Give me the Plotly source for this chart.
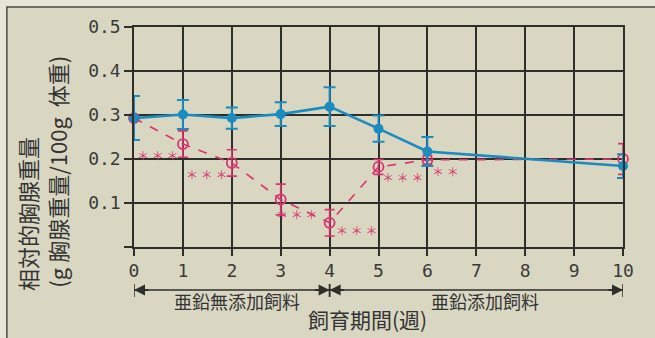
import plotly.graph_objects as go

# ---- data ----
weeks = [0, 1, 2, 3, 4, 5, 6, 10]
control_y = [0.293, 0.301, 0.293, 0.302, 0.319, 0.269, 0.217, 0.184]
control_err = [0.050, 0.033, 0.024, 0.027, 0.044, 0.030, 0.033, 0.027]
zinc_y = [0.293, 0.234, 0.191, 0.108, 0.055, 0.182, 0.198, 0.200]
zinc_err = [0.0, 0.030, 0.030, 0.035, 0.030, 0.017, 0.010, 0.035]

sig_x = [0.49, 1.49, 3.33, 4.56, 5.50, 6.37]
sig_y = [0.209, 0.164, 0.073, 0.037, 0.158, 0.171]
sig_text = ["＊ ＊ ＊", "＊ ＊ ＊", "＊ ＊ ＊", "＊ ＊ ＊", "＊ ＊ ＊", "＊ ＊"]

x_ticks = list(range(0, 11))
y_ticks = [0, 0.1, 0.2, 0.3, 0.4, 0.5]
y_ticktext = ["", "0.1", "0.2", "0.3", "0.4", "0.5"]

phase_start = [0, 4]
phase_end = [4, 10]
phase_label = ["亜鉛無添加飼料", "亜鉛添加飼料"]
phase_label_x = [2.1, 7.18]

BLUE = "#1b8cbf"
PINK = "#d8356e"
GRID = "#2e2e2a"
BG = "#d9d7c2"
CJK = "Noto Sans CJK JP"

fig = go.Figure()

fig.add_trace(go.Scatter(
    x=weeks, y=zinc_y, mode="lines+markers", cliponaxis=False,
    line=dict(color=PINK, width=1.6, dash="dash"),
    marker=dict(symbol="circle-open", size=10, color=PINK, line=dict(width=1.8, color=PINK)),
    error_y=dict(type="data", array=zinc_err, color=PINK, thickness=1.6, width=5),
    showlegend=False,
))
fig.add_trace(go.Scatter(
    x=weeks, y=control_y, mode="lines+markers", cliponaxis=False,
    line=dict(color=BLUE, width=2.6),
    marker=dict(symbol="circle", size=10, color=BLUE),
    error_y=dict(type="data", array=control_err, color=BLUE, thickness=2, width=6),
    showlegend=False,
))

# significance marks
for sx, sy, st in zip(sig_x, sig_y, sig_text):
    fig.add_annotation(x=sx, y=sy, text=st, showarrow=False,
                       font=dict(family=CJK, size=12, color=PINK))

# phase arrows below the axis
arrow_y = -0.1955
cap_lo, cap_hi = -0.227, -0.168
for x0, x1, label, lx in zip(phase_start, phase_end, phase_label, phase_label_x):
    fig.add_shape(type="line", xref="x", yref="paper", x0=x0, x1=x1, y0=arrow_y, y1=arrow_y,
                  line=dict(color=GRID, width=1.5))
    for xe, direction in ((x0, 1), (x1, -1)):
        fig.add_shape(type="line", xref="x", yref="paper", x0=xe, x1=xe, y0=cap_lo, y1=cap_hi,
                      line=dict(color=GRID, width=1.5))
        fig.add_annotation(x=xe, y=arrow_y, xref="x", yref="paper", text="",
                           showarrow=True, ax=16 * direction, ay=0, axref="pixel", ayref="pixel",
                           arrowhead=2, arrowsize=1.1, arrowwidth=2, arrowcolor=GRID)
    fig.add_annotation(x=lx, y=-0.245, xref="x", yref="paper",
                       text=label, showarrow=False, xanchor="center", yanchor="middle",
                       font=dict(family=CJK, size=18, color="#333"))

# axis titles
fig.add_annotation(x=0.478, y=-0.325, xref="paper", yref="paper", text="飼育期間(週)",
                   showarrow=False, xanchor="center", yanchor="middle",
                   font=dict(family=CJK, size=21, color="#333"))
fig.add_annotation(x=-0.219, y=-0.209, xref="paper", yref="paper", text="相対的胸腺重量",
                   showarrow=False, textangle=-90, xanchor="center", yanchor="bottom",
                   font=dict(family=CJK, size=22, color="#333"))
fig.add_annotation(x=-0.158, y=-0.195, xref="paper", yref="paper",
                   text="(g\u00a0胸腺重量/100g\u00a0\u00a0体重)",
                   showarrow=False, textangle=-90, xanchor="center", yanchor="bottom",
                   font=dict(family=CJK, size=22, color="#333"))

# outer frame (left/top border of the figure panel)
fig.add_shape(type="rect", xref="paper", yref="paper", x0=-0.26, x1=1.09, y0=-0.46, y1=1.091,
              fillcolor=BG, line=dict(color="#4a4a44", width=1.5), layer="below")

fig.update_xaxes(range=[0, 10], tickvals=x_ticks, showgrid=True, gridcolor=GRID, gridwidth=1.5,
                 zeroline=False, showline=True, linecolor=GRID, linewidth=1.5, mirror=True,
                 ticks="outside", ticklen=7, tickwidth=1.5, tickcolor=GRID,
                 tickfont=dict(family="DejaVu Sans Mono", size=18, color="#3a3a3a"))
fig.update_yaxes(range=[0, 0.5], tickvals=y_ticks, ticktext=y_ticktext, showgrid=True,
                 gridcolor=GRID, gridwidth=1.5, zeroline=False, showline=True, linecolor=GRID,
                 linewidth=1.5, mirror=True, ticks="outside", ticklen=8, tickwidth=1.5,
                 tickcolor=GRID,
                 tickfont=dict(family="DejaVu Sans Mono", size=18, color="#3a3a3a"))

fig.update_layout(width=655, height=338, margin=dict(l=134, r=32, t=27, b=91),
                  paper_bgcolor="#e7e5d7", plot_bgcolor=BG)

fig.write_html("out.html", config={"displayModeBar": False},
               post_script="document.body.style.margin='0';document.body.style.overflow='hidden';document.body.style.background='#e7e5d7';")
